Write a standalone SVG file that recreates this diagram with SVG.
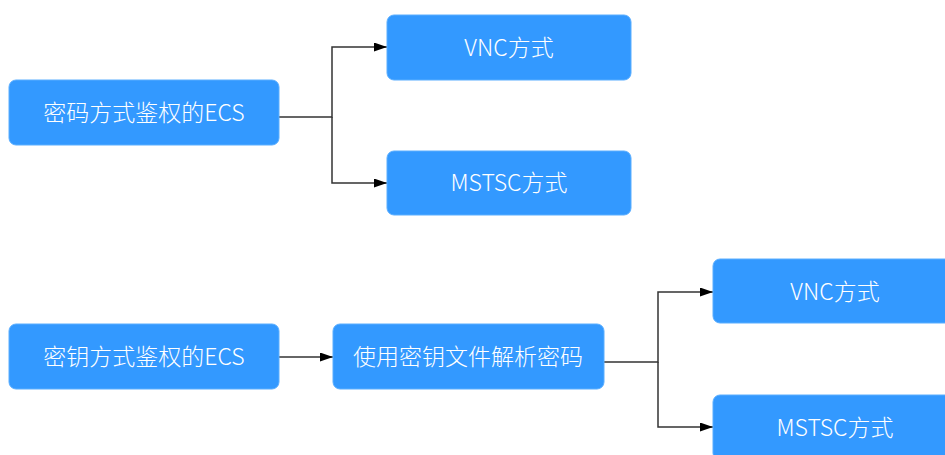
<svg xmlns="http://www.w3.org/2000/svg" width="945" height="455" viewBox="0 0 945 455">
<defs>
<marker id="arr" markerWidth="13" markerHeight="9" refX="13" refY="4.5" orient="auto" markerUnits="userSpaceOnUse">
<path d="M0,0 L13,4.5 L0,9 Z" fill="#000"/>
</marker>
<style>
.box{fill:#3399ff;stroke:#5aaeff;stroke-width:1}
.t{font-family:"Microsoft YaHei","Noto Sans CJK SC","Noto Sans",sans-serif;font-size:23px;font-weight:300;fill:#ffffff;text-anchor:middle;dominant-baseline:central}
.c{fill:none;stroke:#333;stroke-width:1.5}
</style>
</defs>
<rect width="945" height="455" fill="#ffffff"/>
<g id="connectors">
<path class="c" d="M279,117 H332 V47 H387" marker-end="url(#arr)"/>
<path class="c" d="M332,117 V183 H387" marker-end="url(#arr)"/>
<path class="c" d="M279,357 H333" marker-end="url(#arr)"/>
<path class="c" d="M604,362 H658 V292 H713" marker-end="url(#arr)"/>
<path class="c" d="M658,362 V427 H713" marker-end="url(#arr)"/>
</g>
<g id="n1"><rect class="box" x="9" y="80" width="270" height="65" rx="7"/><text class="t" x="144" y="111">密码方式鉴权的ECS</text></g>
<g id="n2"><rect class="box" x="387" y="15" width="244" height="65" rx="7"/><text class="t" x="509" y="46">VNC方式</text></g>
<g id="n3"><rect class="box" x="387" y="151" width="244" height="64" rx="7"/><text class="t" x="509" y="181">MSTSC方式</text></g>
<g id="n4"><rect class="box" x="9" y="324" width="270" height="65" rx="7"/><text class="t" x="144" y="355">密钥方式鉴权的ECS</text></g>
<g id="n5"><rect class="box" x="333" y="324" width="271" height="65" rx="7"/><text class="t" x="468" y="355">使用密钥文件解析密码</text></g>
<g id="n6"><rect class="box" x="713" y="259" width="244" height="64" rx="7"/><text class="t" x="835" y="290">VNC方式</text></g>
<g id="n7"><rect class="box" x="713" y="395" width="244" height="65" rx="7"/><text class="t" x="835" y="426">MSTSC方式</text></g>
</svg>
